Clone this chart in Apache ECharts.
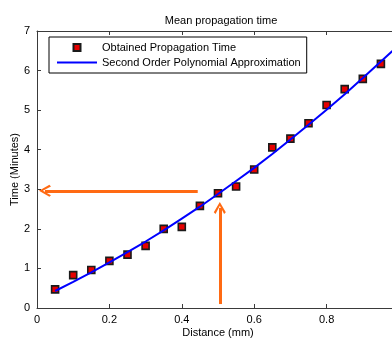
<!DOCTYPE html>
<html><head><meta charset="utf-8">
<script src="https://cdn.jsdelivr.net/npm/echarts@6/dist/echarts.min.js"></script>
<style>html,body{margin:0;padding:0;background:#fff}#c{width:392px;height:338px}</style>
</head><body><div id="c"></div>
<script>
const distances = [0.05,0.10,0.15,0.20,0.25,0.30,0.35,0.40,0.45,0.50,0.55,0.60,0.65,0.70,0.75,0.80,0.85,0.90,0.95];
const measuredTimes = [0.47,0.83,0.96,1.19,1.35,1.57,2.00,2.05,2.58,2.90,3.07,3.50,4.06,4.28,4.67,5.13,5.53,5.79,6.17];
const fitDistances = [0.05,0.10,0.15,0.20,0.25,0.30,0.35,0.40,0.45,0.50,0.55,0.60,0.65,0.70,0.75,0.80,0.85,0.90,0.95,1.00];
const fitTimes = [0.43,0.66,0.90,1.15,1.41,1.68,1.96,2.26,2.56,2.88,3.21,3.54,3.89,4.26,4.63,5.01,5.40,5.81,6.23,6.65];
const arrowH = [[0.444,2.96],[0.022,2.96]];
const arrowV = [[0.505,0.10],[0.505,2.53]];
const seriesNames = ['Obtained Propagation Time','Second Order Polynomial Approximation'];

const font = 'Liberation Sans, Arial, sans-serif';
const axisCol = '#3a3a3a';
const chevron = 'path://M6,0 L12,8 L10.3,9.2 L6,3 L1.7,9.2 L0,8 Z';
const orange = '#ff6a13';

const chart = echarts.init(document.getElementById('c'), null, {renderer:'canvas'});
chart.setOption({
  backgroundColor:'#fff',
  animation:false,
  title:{text:'Mean propagation time', left:216, top:10, textAlign:'center',
    textStyle:{fontFamily:font,fontSize:11,fontWeight:'normal',color:'#000'}},
  grid:{left:37, top:31, right:-7, bottom:30, show:false, containLabel:false, outerBoundsMode:'none'},
  legend:{
    orient:'vertical', left:49, top:37,
    padding:[5,6,5,8], itemGap:4, itemWidth:40, itemHeight:7,
    borderColor:'#000', borderWidth:1, backgroundColor:'#fff',
    textStyle:{fontFamily:font,fontSize:11,color:'#000'},
    data:[{name:seriesNames[0], icon:'path://M0,0 L10,0 L10,10 L0,10 Z'},
          {name:seriesNames[1], icon:'path://M0,0 L40,0 L40,2 L0,2 Z'}]
  },
  xAxis:[{
    type:'value', min:0, max:1, interval:0.2, position:'bottom',
    name:'Distance (mm)', nameLocation:'middle', nameGap:19, nameMoveOverlap:false,
    nameTextStyle:{fontFamily:font,fontSize:11,color:'#000'},
    axisLine:{lineStyle:{color:axisCol,width:1}},
    axisTick:{inside:true,length:4,lineStyle:{color:axisCol}},
    axisLabel:{fontFamily:font,fontSize:11,color:'#000',margin:6},
    splitLine:{show:false}
  },{
    type:'value', min:0, max:1, interval:0.2, position:'top',
    axisLine:{show:true,lineStyle:{color:axisCol,width:1}},
    axisTick:{inside:true,length:4,lineStyle:{color:axisCol}},
    axisLabel:{show:false}, splitLine:{show:false}
  }],
  yAxis:[{
    type:'value', min:0, max:7, interval:1,
    name:'Time (Minutes)', nameLocation:'middle', nameGap:17, nameRotate:90, nameMoveOverlap:false,
    nameTextStyle:{fontFamily:font,fontSize:11,color:'#000'},
    axisLine:{show:true,lineStyle:{color:axisCol,width:1}},
    axisTick:{show:true,inside:true,length:4,lineStyle:{color:axisCol}},
    axisLabel:{fontFamily:font,fontSize:11,color:'#000',margin:7},
    splitLine:{show:false}
  }],
  series:[{
    name:seriesNames[0], type:'scatter', symbol:'rect', symbolSize:7,
    itemStyle:{color:'#e60000', borderColor:'#1a1a1a', borderWidth:1.6, opacity:1},
    data:distances.map((d,i)=>[d,measuredTimes[i]]), z:3
  },{
    name:seriesNames[1], type:'line', showSymbol:false, symbol:'none',
    lineStyle:{color:'#0000ff', width:2}, itemStyle:{color:'#0000ff'},
    data:fitDistances.map((d,i)=>[d,fitTimes[i]]), z:4
  },{
    name:'arrows', type:'line', data:[], silent:true,
    markLine:{
      silent:true, animation:false,
      symbol:['none', chevron], symbolSize:12,
      label:{show:false},
      lineStyle:{color:orange, width:3, type:'solid'},
      emphasis:{disabled:true},
      data:[
        [{coord:arrowH[0]},{coord:arrowH[1]}],
        [{coord:arrowV[0]},{coord:arrowV[1]}]
      ]
    }, z:5
  }]
});
</script></body></html>
